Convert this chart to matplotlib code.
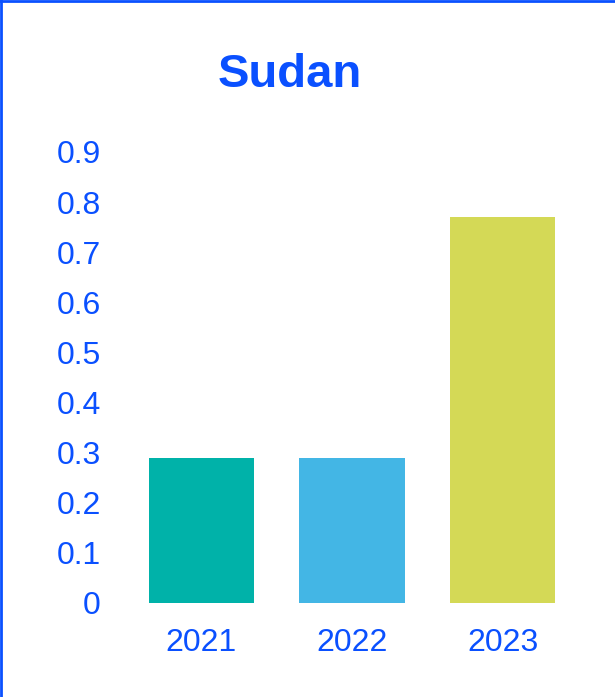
import matplotlib
matplotlib.use("Agg")
import matplotlib.pyplot as plt
from matplotlib.lines import Line2D

# data
years = ["2021", "2022", "2023"]
values = [0.29, 0.29, 0.77]
bar_colors = ["#00B2A9", "#43B6E5", "#D4D956"]
y_ticks = [0, 0.1, 0.2, 0.3, 0.4, 0.5, 0.6, 0.7, 0.8, 0.9]
y_tick_labels = ["0", "0.1", "0.2", "0.3", "0.4", "0.5", "0.6", "0.7", "0.8", "0.9"]

BLUE = "#0A50FF"
plt.rcParams["font.family"] = ["Liberation Sans", "DejaVu Sans"]

W, H = 615, 697
fig = plt.figure(figsize=(W / 100, H / 100), dpi=100)
ax = fig.add_axes([126 / W, 1 - 603 / H, (578 - 126) / W, (603 - 152) / H])

x = range(len(years))
ax.bar(x, values, width=0.7, color=bar_colors)
ax.set_xlim(-0.5, 2.5)
ax.set_ylim(0, 0.9)
ax.set_xticks(list(x))
ax.set_xticklabels(years)
ax.set_yticks(y_ticks)
ax.set_yticklabels(y_tick_labels)
ax.tick_params(axis="both", length=0, labelsize=23, labelcolor=BLUE)
ax.tick_params(axis="y", pad=18)
ax.tick_params(axis="x", pad=18)
for s in ax.spines.values():
    s.set_visible(False)

fig.text(290 / W, 1 - 75 / H, "Sudan", ha="center", va="center",
         fontsize=34, fontweight="bold", color=BLUE)

# border on top and left edges
fig.add_artist(Line2D([1 / W, 1 / W], [0, 1], color=BLUE, lw=2, transform=fig.transFigure))
fig.add_artist(Line2D([0, 1], [1 - 1 / H, 1 - 1 / H], color=BLUE, lw=2, transform=fig.transFigure))

fig.savefig("out.png", dpi=100)
